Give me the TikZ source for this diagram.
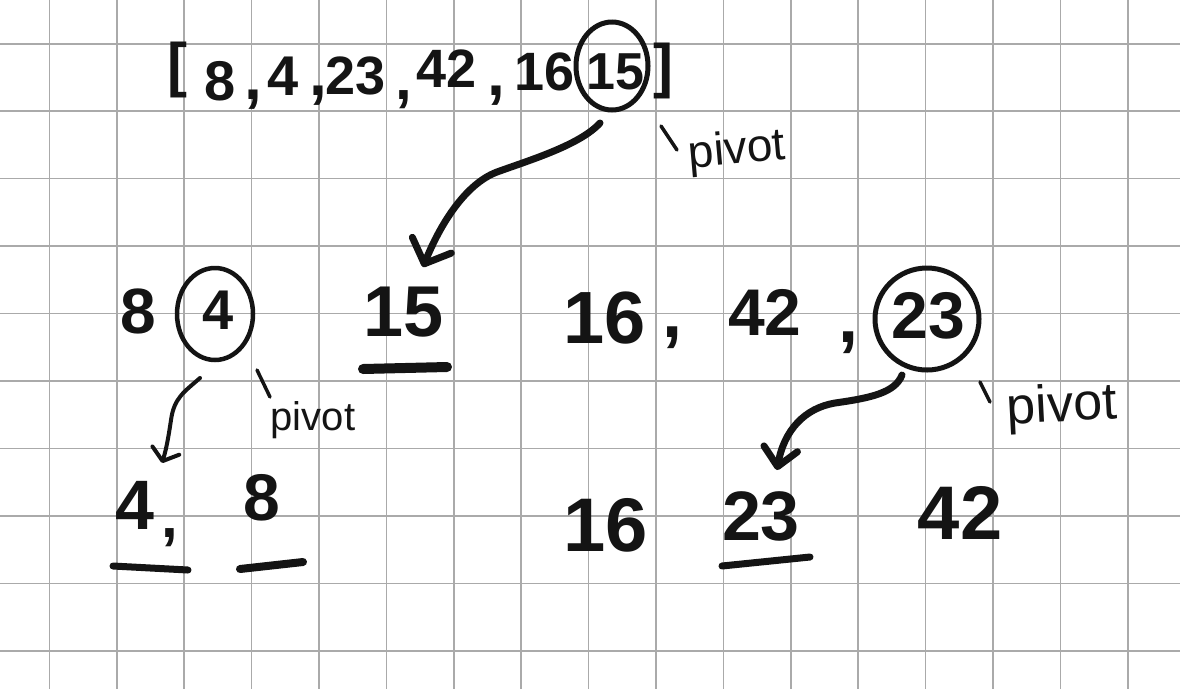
\documentclass[tikz,border=0pt]{standalone}
\usepackage{fontspec}
\setmainfont{Liberation Sans}
\usetikzlibrary{arrows.meta}
\definecolor{ink}{HTML}{141414}
\definecolor{gridc}{HTML}{AAAAAA}
\begin{document}
\begin{tikzpicture}[x=1pt,y=-1pt,
  num/.style={font=\bfseries\fontsize{#1}{#1}\selectfont, text=ink, inner sep=0pt},
  lbl/.style={font=\fontsize{#1}{#1}\selectfont, text=ink, inner sep=0pt},
  ringline/.style={draw=ink, line width=#1},
  arr/.style={draw=ink, line width=#1, line cap=round},
  uline/.style={draw=ink, line width=#1, line cap=round},
  tickline/.style={draw=ink, line width=3.5pt, line cap=round},
  gridline/.style={draw=gridc, line width=1.6pt}
]
\fill[white] (0,0) rectangle (1180,689);
\useasboundingbox (0,0) rectangle (1180,689);
% grid
\foreach \k in {0,...,16} {\draw[gridline] ({49.3+67.4*\k},0) -- ({49.3+67.4*\k},689);}
\foreach \k in {0,...,9} {\draw[gridline] (0,{43.7+67.45*\k}) -- (1180,{43.7+67.45*\k});}

% top row
\node[num=60] (lb) at (177,70) {[};
\node[num=56] (t8) at (220,81) {8};
\node[num=64] (c1) at (253,100) {,};
\node[num=56] (t4) at (283,76) {4};
\node[num=64] (c2) at (318,96) {,};
\node[num=54] (t23) at (356,76) {23};
\node[num=60] (c3) at (404,100) {,};
\node[num=54] (t42) at (447,69) {42};
\node[num=64] (c4) at (496,96) {,};
\node[num=54] (t16) at (545,72) {16};
\node[num=52] (p15) at (615,72) {15};
\node[num=60] (rb) at (663,71) {]};
\draw[ringline=5pt] ([shift={(-3,-6)}]p15.center) ellipse [x radius=36, y radius=44];
\node[lbl=46, rotate=5] (pv1) at (737,152) {pivot};
\draw[tickline] ([shift={(-76,-26)}]pv1.center) -- ([shift={(-60,-2)}]pv1.center);

% middle row
\node[num=64] (m8) at (138,311) {8};
\node[num=56] (m4) at (218,310) {4};
\draw[ringline=4.5pt] ([shift={(-3,4)}]m4.center) ellipse [x radius=38, y radius=46];
\node[num=72] (m15) at (404,312) {15};
\draw[uline=10pt] ([shift={(-41,57)}]m15.center) -- ([shift={(43,55)}]m15.center);
\node[num=74] (m16) at (605,318) {16};
\node[num=72] (mc1) at (672,338) {,};
\node[num=66] (m42) at (765,312) {42};
\node[num=72] (mc2) at (848,343) {,};
\node[num=66] (m23) at (928,316) {23};
\draw[ringline=5pt] ([shift={(-1,3)}]m23.center) ellipse [x radius=52, y radius=51];
\node[lbl=40] (pv2) at (313,420) {pivot};
\draw[tickline] ([shift={(-56,-50)}]pv2.center) -- ([shift={(-43,-23)}]pv2.center);
\node[lbl=52, rotate=3] (pv3) at (1062,408) {pivot};
\draw[tickline] ([shift={(-82,-26)}]pv3.center) -- ([shift={(-72,-6)}]pv3.center);

% bottom row
\node[num=70] (b4) at (135,505) {4};
\node[num=60] (bc) at (170,538) {,};
\draw[uline=7pt] ([shift={(-22,61)}]b4.center) -- ([shift={(53,65)}]b4.center);
\node[num=66] (b8) at (262,498) {8};
\draw[uline=8pt] ([shift={(-22,71)}]b8.center) -- ([shift={(41,64)}]b8.center);
\node[num=76] (b16) at (606,525) {16};
\node[num=70] (b23) at (761,516) {23};
\draw[uline=7pt] ([shift={(-39,50)}]b23.center) -- ([shift={(49,41)}]b23.center);
\node[num=76] (b42) at (960,513) {42};

% arrows
\draw[arr=7pt, -{Straight Barb[length=20pt,width=42pt,round]}]
  ([shift={(-15,51)}]p15.center) .. controls (580,145) and (530,160) .. (497,172)
  .. controls (465,184) and (440,225) .. ([shift={(19,-45)}]m15.center);
\draw[arr=4pt, -{Straight Barb[length=11pt,width=28pt,round]}]
  ([shift={(-18,68)}]m4.center) .. controls (184,392) and (174,398) .. (171,420)
  .. controls (168,440) and (166,450) .. ([shift={(27,-42)}]b4.center);
\draw[arr=7pt, -{Straight Barb[length=18pt,width=34pt,round]}]
  ([shift={(-26,59)}]m23.center) .. controls (895,393) and (870,398) .. (835,403)
  .. controls (805,408) and (784,430) .. ([shift={(16,-46)}]b23.center);
\end{tikzpicture}
\end{document}
